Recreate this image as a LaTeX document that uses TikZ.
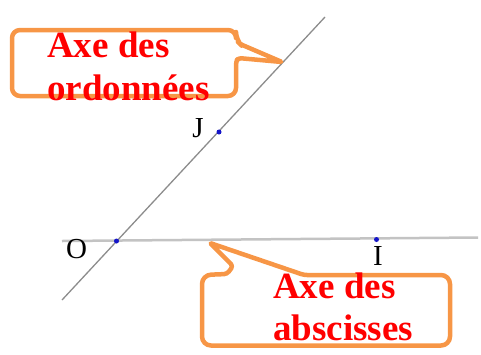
\documentclass[tikz,border=0pt]{standalone}
\usepackage{fontspec}
\setmainfont{Liberation Serif}
\definecolor{calloutorange}{RGB}{247,150,70}
\definecolor{axisgray}{RGB}{195,195,195}
\definecolor{obliquegray}{RGB}{140,140,140}
\definecolor{pointblue}{RGB}{20,20,200}
\begin{document}
\begin{tikzpicture}[x=1pt,y=-1pt,
  callout/.style={draw=calloutorange, line width=4.5pt, line join=round},
  calltext/.style={text=red, font=\fontsize{37}{43}\selectfont\bfseries, inner sep=0pt, anchor=base west},
  ptlabel/.style={font=\fontsize{29}{34}\selectfont, inner sep=0pt},
  ptdot/.style={circle, fill=pointblue, inner sep=0pt, minimum size=5pt}
]
\useasboundingbox (0,0) rectangle (481,354);
% axes
\coordinate (xl) at (62,241);
\coordinate (xr) at (478,237.5);
\coordinate (yl) at (62,300);
\coordinate (yr) at (325,17);
\draw[axisgray, line width=2.5pt] (xl) -- (xr);
\draw[obliquegray, line width=1.3pt] (yl) -- (yr);
% points
\node[ptdot] (O) at (116.5,241) {};
\node[ptdot] (J) at (219,132) {};
\node[ptdot] (I) at (376.5,239.5) {};
\node[ptlabel] (Olab) at (76.5,249.5) {O};
\node[ptlabel] (Jlab) at (198,128) {J};
\node[ptlabel] (Ilab) at (378,256) {I};
% top callout
\draw[callout] (12,63) [rounded corners=8pt] -- (12,30) -- (236,30) -- (236,40)
  [rounded corners=3pt] -- (240,44) [rounded corners=1pt] -- (282,62)
  [rounded corners=3pt] -- (238,58) -- (236,62)
  [rounded corners=8pt] -- (236,96) -- (12,96) -- cycle;
\node[calltext] (ord1) at (47,57) {Axe des};
\node[calltext] (ord2) at (47,100) {ordonnées};
% bottom callout
\draw[callout] (202,310) [rounded corners=9pt] -- (202,275)
  [rounded corners=3pt] -- (227,274) -- (233,266)
  [rounded corners=1pt] -- (210,243)
  [rounded corners=3pt] -- (304,275)
  [rounded corners=9pt] -- (450,275) -- (450,345.5) -- (202,345.5) -- cycle;
\node[calltext] (abs1) at (273,298) {Axe des};
\node[calltext] (abs2) at (273,340) {abscisses};
\end{tikzpicture}
\end{document}
